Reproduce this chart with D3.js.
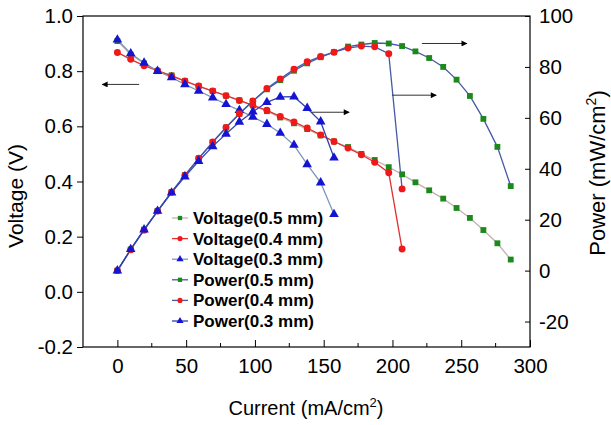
<!DOCTYPE html>
<html><head><meta charset="utf-8">
<script src="https://cdn.jsdelivr.net/npm/d3@7"></script>
<style>body{margin:0;background:#fff}svg{display:block;font-family:"Liberation Sans",Arial,sans-serif}</style>
</head><body><svg id="c" width="611" height="425"></svg>
<script>
const current05 = [0, 9.7, 19.4, 29.2, 39.4, 49.1, 59.1, 69.3, 79.0, 88.7, 98.5, 108.7, 118.4, 128.4, 138.0, 147.8, 157.5, 167.7, 177.4, 187.1, 197.3, 207.0, 216.7, 226.7, 236.9, 246.6, 256.3, 266.1, 276.3, 286.0];
const current04 = [0, 9.7, 19.4, 29.2, 39.4, 49.1, 59.1, 69.3, 79.0, 88.7, 98.5, 108.7, 118.4, 128.4, 138.0, 147.8, 157.5, 167.7, 177.4, 187.1, 197.3, 207.0];
const current03 = [0, 9.7, 19.4, 29.2, 39.4, 49.1, 59.1, 69.3, 79.0, 88.7, 98.5, 108.7, 118.4, 128.4, 138.0, 147.8, 157.5];
const voltage05 = [0.909, 0.860, 0.828, 0.800, 0.785, 0.764, 0.745, 0.728, 0.711, 0.694, 0.676, 0.655, 0.632, 0.611, 0.590, 0.567, 0.545, 0.525, 0.500, 0.478, 0.452, 0.426, 0.397, 0.368, 0.338, 0.304, 0.268, 0.224, 0.176, 0.117];
const voltage04 = [0.868, 0.843, 0.820, 0.802, 0.783, 0.764, 0.746, 0.728, 0.711, 0.694, 0.676, 0.658, 0.636, 0.616, 0.594, 0.569, 0.545, 0.521, 0.497, 0.470, 0.432, 0.155];
const voltage03 = [0.914, 0.864, 0.830, 0.800, 0.777, 0.752, 0.728, 0.704, 0.680, 0.658, 0.634, 0.608, 0.576, 0.532, 0.462, 0.396, 0.281];
const power05 = [0, 8.3, 16.1, 23.4, 30.9, 37.5, 44.0, 50.4, 56.2, 61.6, 66.6, 71.2, 74.8, 78.5, 81.4, 83.8, 85.8, 88.0, 88.8, 89.4, 89.2, 88.2, 86.1, 83.5, 80.0, 75.0, 68.6, 59.6, 48.6, 33.2];
const power04 = [0, 8.2, 15.9, 23.4, 30.8, 37.5, 44.1, 50.5, 56.2, 61.6, 66.6, 71.5, 75.3, 79.1, 82.0, 84.1, 85.8, 87.4, 88.2, 87.9, 85.2, 32.1];
const power03 = [0, 8.4, 16.1, 23.4, 30.6, 36.9, 43.0, 48.8, 53.7, 58.4, 62.4, 66.1, 68.2, 68.3, 63.8, 58.5, 44.3];
const xTicks = [0, 50, 100, 150, 200, 250, 300];
const yLeftTicks = [-0.2, 0.0, 0.2, 0.4, 0.6, 0.8, 1.0];
const yRightTicks = [-20, 0, 20, 40, 60, 80, 100];
const legendLabels = ["Voltage(0.5 mm)", "Voltage(0.4 mm)", "Voltage(0.3 mm)", "Power(0.5 mm)", "Power(0.4 mm)", "Power(0.3 mm)"];
// arrows: [x1, x2, value, axis]
const arrowsData = [[15.8, -11, 0.752, "L"], [140.9, 168.5, 62.2, "R"], [199.6, 231.8, 68.9, "R"], [221.4, 254.1, 89.2, "R"]];

const svg = d3.select("#c");
const L = 83, R = 530, T = 16, B = 347;
const x = d3.scaleLinear().domain([-25, 300]).range([L, R]);
const yL = d3.scaleLinear().domain([-0.2, 1.0]).range([B, T]);
const yR = d3.scaleLinear().domain([-30, 100]).range([B, T]);

const green = "#1b8a1b", red = "#f01818", blue = "#1414d2";
const series = [
  {c: current05, v: voltage05, y: yL, sym: d3.symbolSquare, size: 34, fill: green, line: "#c4b0b0"},
  {c: current04, v: voltage04, y: yL, sym: d3.symbolCircle, size: 38, fill: red, line: "#e03030"},
  {c: current03, v: voltage03, y: yL, sym: d3.symbolTriangle, size: 40, fill: blue, line: "#7d95b8"},
  {c: current05, v: power05, y: yR, sym: d3.symbolSquare, size: 34, fill: green, line: "#4858a8"},
  {c: current04, v: power04, y: yR, sym: d3.symbolCircle, size: 38, fill: red, line: "#4858a8"},
  {c: current03, v: power03, y: yR, sym: d3.symbolTriangle, size: 40, fill: blue, line: "#3040b0"}
];
const hy = s => s.replace("\u2212", "-");

// axes frame
const fr = svg.append("g").attr("stroke", "#000").attr("stroke-width", 1.2).attr("fill", "none");
fr.append("rect").attr("x", L).attr("y", T).attr("width", R - L).attr("height", B - T);

const axB = d3.axisBottom(x).tickValues(xTicks).tickSize(-7).tickPadding(11).tickFormat(d3.format("d"));
const gB = svg.append("g").attr("transform", `translate(0,${B})`).call(axB);
const minorX = d3.range(25, 300, 50);
svg.append("g").selectAll("line").data(minorX).join("line")
  .attr("x1", d => x(d)).attr("x2", d => x(d)).attr("y1", B).attr("y2", B - 4).attr("stroke", "#000");

const axL = d3.axisLeft(yL).tickValues(yLeftTicks).tickSize(6).tickPadding(4).tickFormat(d => hy(d3.format(".1f")(d)));
const gL = svg.append("g").attr("transform", `translate(${L},0)`).call(axL);
const axR = d3.axisRight(yR).tickValues(yRightTicks).tickSize(-5).tickPadding(9).tickFormat(d => hy(d3.format("d")(d)));
const gR = svg.append("g").attr("transform", `translate(${R},0)`).call(axR);
[gB, gL, gR].forEach(g => {
  g.select(".domain").remove();
  g.selectAll("text").attr("font-size", 20.5).attr("font-family", "Liberation Sans, Arial, sans-serif").attr("fill", "#000");
  g.selectAll("line").attr("stroke", "#000");
});

// titles
svg.append("text").attr("x", 306).attr("y", 415).attr("text-anchor", "middle").attr("font-size", 20)
  .html('Current (mA/cm<tspan font-size="13" dy="-8">2</tspan><tspan dy="8">)</tspan>');
svg.append("text").attr("transform", "translate(23,196) rotate(-90)").attr("text-anchor", "middle").attr("font-size", 21)
  .text("Voltage (V)");
svg.append("text").attr("transform", "translate(605,173) rotate(-90)").attr("text-anchor", "middle").attr("font-size", 22)
  .html('Power (mW/cm<tspan font-size="14" dy="-9">2</tspan><tspan dy="9">)</tspan>');

// series
const plot = svg.append("g");
series.forEach(s => {
  const pts = s.c.map((c, i) => [c, s.v[i]]);
  const line = d3.line().x(d => x(d[0])).y(d => s.y(d[1]));
  plot.append("path").datum(pts).attr("d", line).attr("fill", "none").attr("stroke", s.line).attr("stroke-width", 1.3);
});
series.forEach(s => {
  const pts = s.c.map((c, i) => [c, s.v[i]]);
  plot.append("g").selectAll("path").data(pts).join("path")
    .attr("transform", d => `translate(${x(d[0])},${s.y(d[1])})`)
    .attr("d", d3.symbol().type(s.sym).size(s.size)).attr("fill", s.fill);
});

// arrows
const defs = svg.append("defs");
defs.append("marker").attr("id", "ah").attr("viewBox", "0 0 10 10").attr("refX", 9).attr("refY", 5)
  .attr("markerWidth", 9).attr("markerHeight", 6).attr("markerUnits", "userSpaceOnUse").attr("orient", "auto")
  .append("path").attr("d", "M0,0L10,5L0,10Z").attr("fill", "#000");
svg.append("g").selectAll("line").data(arrowsData).join("line")
  .attr("x1", d => x(d[0])).attr("x2", d => x(d[1]))
  .attr("y1", d => (d[3] === "L" ? yL : yR)(d[2])).attr("y2", d => (d[3] === "L" ? yL : yR)(d[2]))
  .attr("stroke", "#333").attr("stroke-width", 1).attr("marker-end", "url(#ah)");

// legend
const lg = svg.append("g");
const legY = d3.scalePoint().domain(legendLabels).range([218, 321]);
legendLabels.forEach((lab, i) => {
  const s = series[i];
  const yy = legY(lab);
  lg.append("line").attr("x1", 172).attr("x2", 188).attr("y1", yy).attr("y2", yy).attr("stroke", s.line).attr("stroke-width", 1.3);
  lg.append("path").attr("transform", `translate(180,${yy})`).attr("d", d3.symbol().type(s.sym).size(s.size * 0.55)).attr("fill", s.fill);
  lg.append("text").attr("x", 193).attr("y", yy + 6).attr("font-size", 17).attr("font-weight", "bold").text(lab);
});
</script></body></html>
